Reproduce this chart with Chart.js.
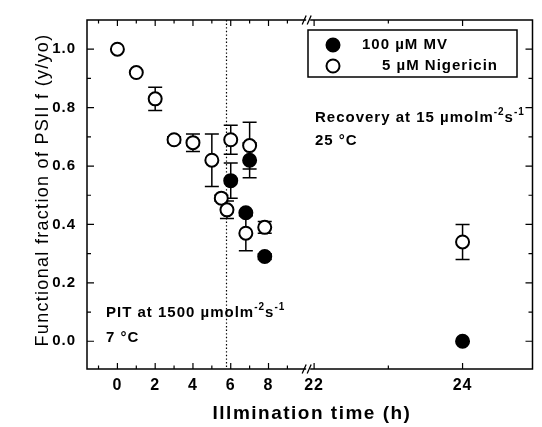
<!DOCTYPE html>
<html>
<head>
<meta charset="utf-8">
<script src="https://cdn.jsdelivr.net/npm/chart.js@4"></script>
<style>
  html, body { margin: 0; padding: 0; background: #fff; }
</style>
</head>
<body>
<canvas id="chart" width="542" height="427"></canvas>
<script>
// hours of illumination / recovery, functional PSII fraction, +- error
const nigTime = [0, 1, 2, 3, 4, 5, 5.5, 5.8, 6, 6.8, 7, 7.8, 24];
const nigFrac = [1.0, 0.92, 0.83, 0.69, 0.68, 0.62, 0.49, 0.45, 0.69, 0.37, 0.67, 0.39, 0.34];
const nigErr = [0, 0, 0.04, 0.01, 0.03, 0.09, 0.01, 0.03, 0.05, 0.06, 0.08, 0.02, 0.06];

const mvTime = [6, 6.8, 7, 7.8, 24];
const mvFrac = [0.55, 0.44, 0.62, 0.29, 0.0];
const mvErr = [0.06, 0, 0.06, 0.01, 0];

const xTickHours = [0, 2, 4, 6, 8, 22, 24];
const xMinorHours = [-1, 1, 3, 5, 7, 9, 23];
const yTicks = [0, 0.2, 0.4, 0.6, 0.8, 1.0];
const yMinor = [0.1, 0.3, 0.5, 0.7, 0.9];
const dividerHour = 5.75;

// broken time axis: 10.1 h on the left part meets 21.92 h on the right part
const breakLeft = 10.1;
const breakRight = 21.92;
const rightStretch = 3.93;
function toAxis(h) {
  return h <= breakLeft ? h : breakLeft + (h - breakRight) * rightStretch;
}

const family = '"Liberation Sans", Arial, sans-serif';
const font = (size, weight) => `${weight || 'normal'} ${size}px ${family}`;

function drawParts(ctx, x, y, parts, size) {
  ctx.textBaseline = 'middle';
  ctx.textAlign = 'left';
  parts.forEach(([text, sup]) => {
    ctx.font = font(sup ? Math.round(size * 0.68) : size, 'bold');
    ctx.fillText(text, x, sup ? y - size * 0.4 : y);
    x += ctx.measureText(text).width;
  });
}

function drawMarker(ctx, x, y, filled) {
  ctx.beginPath();
  ctx.arc(x, y, 6.5, 0, Math.PI * 2);
  ctx.fillStyle = filled ? '#000' : '#fff';
  ctx.fill();
  ctx.lineWidth = 2;
  ctx.strokeStyle = '#000';
  ctx.stroke();
}

const decorations = {
  id: 'decorations',
  beforeDraw(chart) {
    chart.ctx.letterSpacing = '1px';
  },
  beforeDatasetsDraw(chart) {
    const { ctx, chartArea: a, scales: { x, y } } = chart;

    ctx.save();
    ctx.strokeStyle = '#000';
    ctx.lineWidth = 1.2;
    ctx.setLineDash([1.4, 2.2]);
    const dx = Math.round(x.getPixelForValue(toAxis(dividerHour))) + 0.5;
    ctx.beginPath();
    ctx.moveTo(dx, a.top);
    ctx.lineTo(dx, a.bottom);
    ctx.stroke();
    ctx.restore();

    // error bars
    ctx.save();
    ctx.strokeStyle = '#000';
    ctx.lineWidth = 1.5;
    chart.data.datasets.forEach((ds, i) => {
      const meta = chart.getDatasetMeta(i);
      meta.data.forEach((pt, j) => {
        const e = ds.errors[j];
        if (!e) return;
        const v = ds.data[j].y;
        const top = y.getPixelForValue(v + e);
        const bot = y.getPixelForValue(v - e);
        ctx.beginPath();
        ctx.moveTo(pt.x, top);
        ctx.lineTo(pt.x, bot);
        ctx.moveTo(pt.x - 7, top);
        ctx.lineTo(pt.x + 7, top);
        ctx.moveTo(pt.x - 7, bot);
        ctx.lineTo(pt.x + 7, bot);
        ctx.stroke();
      });
    });
    ctx.restore();
  },
  afterDraw(chart) {
    const { ctx, chartArea: a, scales: { x, y } } = chart;
    ctx.save();
    ctx.strokeStyle = '#000';
    ctx.fillStyle = '#000';

    // frame
    ctx.lineWidth = 1.5;
    ctx.strokeRect(a.left, a.top, a.right - a.left - 1, a.bottom - a.top);

    // inward ticks
    ctx.lineWidth = 1.2;
    ctx.beginPath();
    const xTick = (h, len) => {
      const px = x.getPixelForValue(toAxis(h));
      ctx.moveTo(px, a.bottom);
      ctx.lineTo(px, a.bottom - len);
      ctx.moveTo(px, a.top);
      ctx.lineTo(px, a.top + len);
    };
    const yTick = (v, len) => {
      const py = y.getPixelForValue(v);
      ctx.moveTo(a.left, py);
      ctx.lineTo(a.left + len, py);
      ctx.moveTo(a.right - 1, py);
      ctx.lineTo(a.right - 1 - len, py);
    };
    xTickHours.forEach(h => xTick(h, 6));
    xMinorHours.forEach(h => xTick(h, 3.5));
    yTicks.forEach(v => yTick(v, 7));
    yMinor.forEach(v => yTick(v, 4));
    ctx.stroke();

    // axis break marks
    const bx = x.getPixelForValue(breakLeft);
    [a.top, a.bottom].forEach(ay => {
      ctx.fillStyle = '#fff';
      ctx.fillRect(bx - 2, ay - 2, 4, 4);
      ctx.beginPath();
      ctx.lineWidth = 1.3;
      ctx.moveTo(bx - 6, ay + 4.5);
      ctx.lineTo(bx - 2, ay - 4.5);
      ctx.moveTo(bx - 1, ay + 4.5);
      ctx.lineTo(bx + 3, ay - 4.5);
      ctx.stroke();
    });
    ctx.fillStyle = '#000';

    // legend
    ctx.lineWidth = 1.5;
    ctx.strokeRect(308, 30, 209, 47);
    drawMarker(ctx, 333, 45, true);
    drawMarker(ctx, 333, 66, false);
    ctx.fillStyle = '#000';
    drawParts(ctx, 362, 45, [[chart.data.datasets[0].label]], 15);
    drawParts(ctx, 382, 66, [[chart.data.datasets[1].label]], 15);

    // condition notes
    drawParts(ctx, 315, 118, [['Recovery at 15 \u00b5molm'], ['-2', true], ['s'], ['-1', true]], 15);
    drawParts(ctx, 315, 141, [['25 \u00b0C']], 15);
    drawParts(ctx, 106, 313, [['PIT at 1500 \u00b5molm'], ['-2', true], ['s'], ['-1', true]], 15);
    drawParts(ctx, 106, 338, [['7 \u00b0C']], 15);

    // axis titles
    ctx.textAlign = 'center';
    ctx.textBaseline = 'middle';
    ctx.letterSpacing = '1.5px';
    ctx.font = font(19, 'bold');
    ctx.fillText('Illmination time (h)', 312, 414);
    ctx.translate(43, 190);
    ctx.rotate(-Math.PI / 2);
    ctx.letterSpacing = '1.3px';
    ctx.font = font(18);
    ctx.fillText('Functional fraction of PSII f (y/yo)', 0, 0);
    ctx.restore();
  }
};

const ctx = document.getElementById('chart').getContext('2d');
const chart = new Chart(ctx, {
  type: 'scatter',
  data: {
    datasets: [{
      label: '100 \u00b5M MV',
      data: mvTime.map((h, i) => ({ x: toAxis(h), y: mvFrac[i] })),
      errors: mvErr,
      pointRadius: 6.5,
      pointBackgroundColor: '#000',
      pointBorderColor: '#000',
      pointBorderWidth: 2,
    }, {
      label: '5 \u00b5M Nigericin',
      data: nigTime.map((h, i) => ({ x: toAxis(h), y: nigFrac[i] })),
      errors: nigErr,
      pointRadius: 6.5,
      pointBackgroundColor: '#fff',
      pointBorderColor: '#000',
      pointBorderWidth: 2,
    }],
  },
  options: {
    responsive: false,
    animation: false,
    devicePixelRatio: 1,
    layout: { padding: { top: 12, right: 1, left: 0, bottom: 0 } },
    plugins: { legend: { display: false }, tooltip: { enabled: false } },
    scales: {
      x: {
        type: 'linear',
        min: -1.61,
        max: 22.03,
        grid: { display: false, drawTicks: false },
        border: { display: false },
        afterBuildTicks: scale => {
          scale.ticks = xTickHours.map(h => ({ value: toAxis(h) }));
        },
        afterFit: scale => { scale.height = 58; },
        ticks: {
          autoSkip: false,
          maxRotation: 0,
          padding: 7,
          color: '#000',
          font: { family: family, size: 16, weight: 'bold' },
          callback: (value, index) => xTickHours[index],
        },
      },
      y: {
        min: -0.095,
        max: 1.1,
        grid: { display: false, drawTicks: false },
        border: { display: false },
        afterBuildTicks: scale => {
          scale.ticks = yTicks.map(v => ({ value: v }));
        },
        afterFit: scale => { scale.width = 87; },
        ticks: {
          padding: 11,
          color: '#000',
          font: { family: family, size: 15, weight: 'bold' },
          callback: value => value.toFixed(1),
        },
      },
    },
  },
  plugins: [decorations],
});
</script>
</body>
</html>
